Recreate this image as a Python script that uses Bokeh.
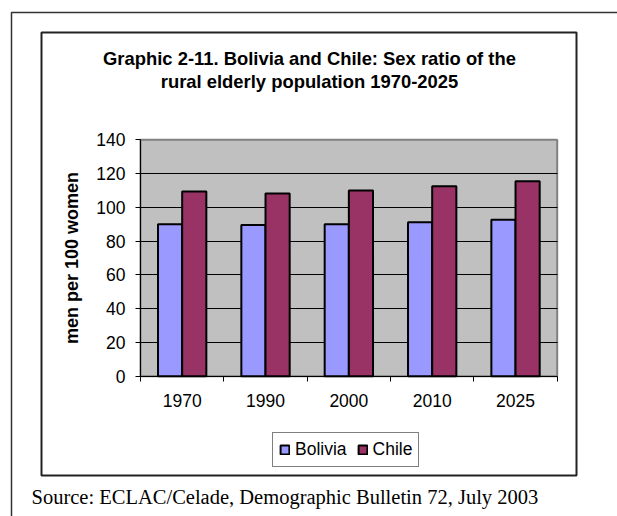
from bokeh.plotting import figure
from bokeh.models import (ColumnDataSource, Range1d, FixedTicker,
                          Legend, LegendItem, Label, BoxAnnotation)
from bokeh.transform import dodge
from bokeh.embed import file_html
from bokeh.resources import INLINE

# Sex ratio (men per 100 women) of the rural elderly population
years = ["1970", "1990", "2000", "2010", "2025"]
bolivia = [90.0, 89.6, 90.0, 91.2, 92.6]
chile = [109.4, 108.2, 110.0, 112.5, 115.5]
y_ticks = [0, 20, 40, 60, 80, 100, 120, 140]
grid_ticks = [20, 40, 60, 80, 100, 120]
y_max = 140

title_lines = ["Graphic 2-11. Bolivia and Chile: Sex ratio of the",
               "rural elderly population 1970-2025"]
source_note = "Source: ECLAC/Celade, Demographic Bulletin 72, July 2003"

# one unit-wide slot per year; labels at slot centres, ticks at slot edges
n = len(years)
centres = [i + 0.5 for i in range(n)]
edges = list(range(n + 1))

src = ColumnDataSource(dict(xc=centres, year=years, bolivia=bolivia, chile=chile))

SANS = "Liberation Sans"
SERIF = "Liberation Serif"

# page layout (pixels): the drawing surface is the whole page, the plot
# area sits inside it, so frames, titles and legend can be drawn around it
W, H = 617, 516
AREA_L, AREA_R, AREA_T, AREA_B = 140, 556.7, 139.3, 375.7
ux = (AREA_R - AREA_L) / n
uy = (AREA_B - AREA_T) / y_max
x_range = Range1d(-AREA_L / ux, n + (W - AREA_R) / ux)
y_range = Range1d(-(H - AREA_B) / uy, y_max + AREA_T / uy)

p = figure(width=W, height=H, x_range=x_range, y_range=y_range,
           output_backend="svg", toolbar_location=None,
           min_border=0, min_border_left=0, min_border_right=0,
           min_border_top=0, min_border_bottom=0)
p.background_fill_color = "white"
p.border_fill_color = "white"
p.outline_line_color = None

# grey plot area
p.add_layout(BoxAnnotation(left=0, right=n, bottom=0, top=y_max, level="image",
                           fill_color="#C0C0C0", fill_alpha=1,
                           line_color="#808080", line_alpha=1, line_width=2))

bw = 0.29
r_bol = p.vbar(x=dodge("xc", -bw / 2), top="bolivia", width=bw,
               source=src, fill_color="#9999FF", line_color="black", line_width=2)
r_chi = p.vbar(x=dodge("xc", bw / 2), top="chile", width=bw,
               source=src, fill_color="#993366", line_color="black", line_width=2)

# horizontal gridlines across the plot area only
p.xgrid.visible = False
p.ygrid.ticker = FixedTicker(ticks=grid_ticks)
p.ygrid.cross_bounds = (0, n)
p.ygrid.grid_line_color = "black"
p.ygrid.grid_line_width = 1

# value axis
ya = p.yaxis[0]
ya.fixed_location = 0
ya.bounds = (0, y_max)
ya.ticker = FixedTicker(ticks=y_ticks)
ya.axis_line_color = "black"
ya.major_tick_line_color = "black"
ya.major_tick_in = 0
ya.major_tick_out = 5
ya.minor_tick_line_color = None
ya.major_label_text_font = SANS
ya.major_label_text_font_size = "17.5px"
ya.major_label_text_color = "black"
ya.major_label_standoff = 10
ya.axis_label = "men per 100 women"
ya.axis_label_text_font = SANS
ya.axis_label_text_font_style = "bold"
ya.axis_label_text_font_size = "18px"
ya.axis_label_text_color = "black"
ya.axis_label_standoff = 11

# category axis: year labels at slot centres, tick marks between slots
xa = p.xaxis[0]
xa.fixed_location = 0
xa.bounds = (0, n)
xa.ticker = FixedTicker(ticks=centres, minor_ticks=edges)
xa.major_label_overrides = {c: y for c, y in zip(centres, years)}
xa.axis_line_color = "black"
xa.major_tick_line_color = None
xa.major_tick_out = 0
xa.major_tick_in = 0
xa.minor_tick_line_color = "black"
xa.minor_tick_out = 5
xa.minor_tick_in = 0
xa.major_label_text_font = SANS
xa.major_label_text_font_size = "17.5px"
xa.major_label_text_color = "black"
xa.major_label_standoff = 13

legend = Legend(items=[LegendItem(label="Bolivia", renderers=[r_bol]),
                       LegendItem(label="Chile", renderers=[r_chi])],
                orientation="horizontal", location=(272, H - 467),
                glyph_width=11, glyph_height=11, label_standoff=5, spacing=10,
                padding=6, label_height=17, margin=0,
                label_text_font=SANS, label_text_font_size="17.5px",
                label_text_color="black",
                border_line_color="black", border_line_width=1.5,
                background_fill_color="white", background_fill_alpha=1)
p.add_layout(legend, "center")

# chart frames (screen units, measured up from the bottom edge)
p.add_layout(BoxAnnotation(left=11, right=W + 20, top=H - 12, bottom=-20,
                           left_units="screen", right_units="screen",
                           top_units="screen", bottom_units="screen",
                           fill_color=None, line_color="#333333", line_alpha=1,
                           line_width=1.5))
p.add_layout(BoxAnnotation(left=41, right=576, top=H - 32, bottom=H - 475,
                           left_units="screen", right_units="screen",
                           top_units="screen", bottom_units="screen",
                           fill_color=None, line_color="#222222", line_alpha=1,
                           line_width=2))

for i, line in enumerate(title_lines):
    p.add_layout(Label(x=309, y=H - (58 + 23 * i), x_units="screen", y_units="screen",
                       text=line, text_align="center", text_baseline="middle",
                       text_font=SANS, text_font_style="bold",
                       text_font_size="18.4px", text_color="black"))

p.add_layout(Label(x=31, y=H - 496, x_units="screen", y_units="screen",
                   text=source_note, text_align="left", text_baseline="middle",
                   text_font=SERIF, text_font_size="20.5px", text_color="black"))

open("out.html", "w").write(file_html(p, INLINE))
